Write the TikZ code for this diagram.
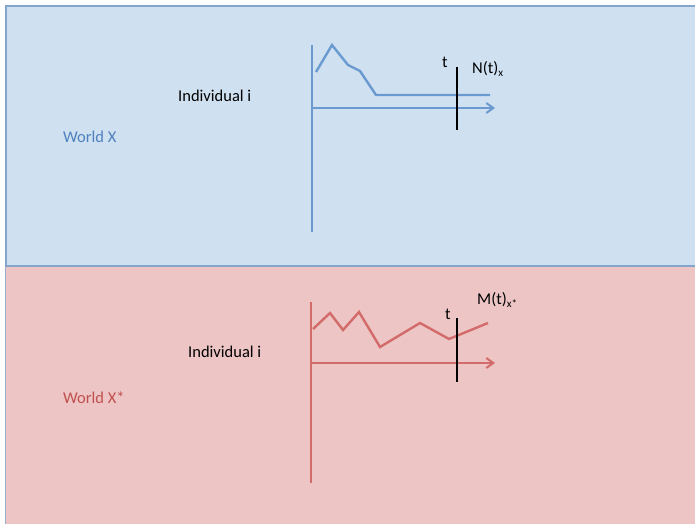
\documentclass[tikz,border=0pt]{standalone}
\usepackage{fontspec}
\setmainfont{Carlito}
\usetikzlibrary{arrows.meta}
\definecolor{bluefill}{HTML}{CFE0F1}
\definecolor{blueedge}{HTML}{85A6CC}
\definecolor{blueline}{HTML}{6A9AD0}
\definecolor{bluetext}{HTML}{4F81BD}
\definecolor{redfill}{HTML}{EDC5C5}
\definecolor{redline}{HTML}{D26B69}
\definecolor{redtext}{HTML}{C0504D}
\tikzset{
  panel/.style={line width=2pt},
  axis/.style={line width=2.4pt},
  curve/.style={line width=2.4pt, line join=miter},
  marker/.style={line width=2.2pt, black},
  txt/.style={font=\fontsize{16.5}{19}\selectfont, inner sep=0pt},
  arr/.style={-{Straight Barb[length=7pt,width=10pt,line width=2pt]}}
}
\newcommand{\subx}[1]{\raisebox{-0.4ex}{\fontsize{11}{11}\selectfont #1}}
\begin{document}
\begin{tikzpicture}[x=1pt,y=-1pt]
\useasboundingbox (0,0) rectangle (695,524);
% panels
\fill[bluefill] (5,6) rectangle (695,266);
\fill[redfill] (5,266) rectangle (695,524);
\draw[blueedge, panel] (695,6.5) -- (5.5,6.5) -- (5.5,266);
\draw[blueedge!80!redfill, line width=1.5pt] (5.5,266) -- (5.5,524);
\draw[blueedge, panel] (5,266) -- (695,266);
% top graph
\coordinate (tvb) at (312,232);
\coordinate (tvt) at (312,45);
\coordinate (tho) at (312,108);
\coordinate (the) at (495,108);
\draw[blueline, axis] (tvb) -- (tvt);
\draw[blueline, axis, arr] (tho) -- (the);
\draw[blueline, curve] (316,72) -- (332,45) -- (348,65) -- (360,71) -- (376,95) -- (490,95);
\coordinate (tmt) at (457,67);
\coordinate (tmb) at (457,130);
\draw[marker] (tmt) -- (tmb);
\node[txt, anchor=center] (tlabel) at (445,62) {t};
\node[txt, anchor=west] (nlabel) at (472,69) {N(t)\subx{x}};
\node[txt, anchor=west] (ind1) at (178,96) {Individual i};
\node[txt, anchor=west, text=bluetext] (w1) at (63,137) {World X};
% bottom graph
\coordinate (bvb) at (311,483);
\coordinate (bvt) at (311,302);
\coordinate (bho) at (311,363);
\coordinate (bhe) at (495,363);
\draw[redline, axis] (bvb) -- (bvt);
\draw[redline, axis, arr] (bho) -- (bhe);
\draw[redline, curve] (313,329) -- (330,313) -- (343,330) -- (359,312) -- (380,347) -- (420,323) -- (449,339) -- (488,323);
\coordinate (bmt) at (457,318);
\coordinate (bmb) at (457,382);
\draw[marker] (bmt) -- (bmb);
\node[txt, anchor=center] (tlabel2) at (448,314) {t};
\node[txt, anchor=west] (mlabel) at (477,300) {M(t)\subx{x*}};
\node[txt, anchor=west] (ind2) at (188,352) {Individual i};
\node[txt, anchor=west, text=redtext] (w2) at (63,398) {World X*};
\end{tikzpicture}
\end{document}
